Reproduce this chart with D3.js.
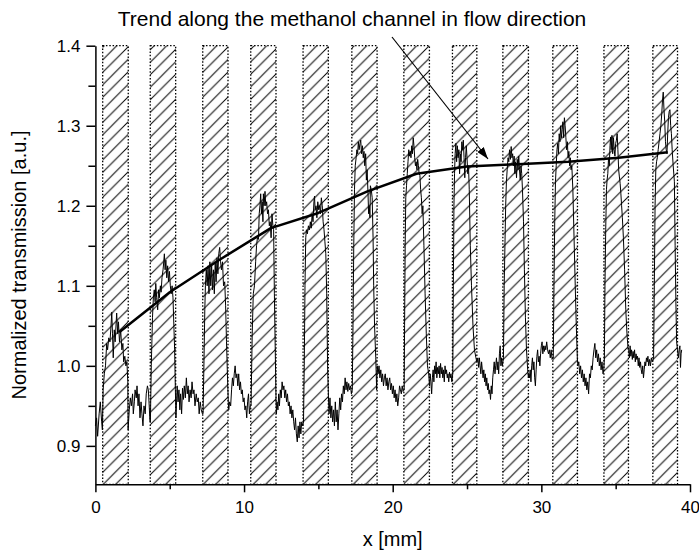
<!DOCTYPE html>
<html>
<head>
<meta charset="utf-8">
<script src="https://cdn.jsdelivr.net/npm/d3@7"></script>
<style>
  body { margin: 0; background: #fff; }
  svg { display: block; font-family: "Liberation Sans", Arial, sans-serif; }
</style>
</head>
<body>
<div id="chart"></div>
<script>
// hatched channel bands (x in mm)
var bandStart = [0.49, 3.69, 7.22, 10.45, 13.97, 17.25, 20.75, 24.02, 27.41, 30.77, 34.21, 37.50];
var bandEnd   = [2.21, 5.40, 8.92, 12.15, 15.67, 18.95, 22.47, 25.66, 29.13, 32.43, 35.86, 39.16];

// trend along the methanol channel
var trendX = [1.6, 5.0, 8.3, 11.8, 15.0, 18.3, 21.6, 25.0, 28.4, 31.8, 35.2, 38.5];
var trendY = [1.042, 1.092, 1.132, 1.172, 1.191, 1.218, 1.240, 1.249, 1.252, 1.255, 1.260, 1.267];

// measured transmission profile [x, value]
var signal = [
  [0.0,0.925],[0.08,0.935],[0.15,0.912],[0.25,0.94],[0.33,0.955],[0.42,0.93],
  [0.47,0.92],[0.52,0.97],[0.6,0.99],[0.68,1.0],[0.76,1.028],[0.82,1.02],[0.9,1.035],[0.98,1.03],[1.05,1.05],[1.1,1.067],[1.15,1.04],[1.2,1.01],[1.27,1.045],[1.33,1.03],[1.43,1.066],[1.5,1.04],[1.55,1.055],[1.62,1.03],[1.7,1.045],[1.78,1.02],[1.85,1.028],[1.9,1.005],[1.98,1.012],[2.05,1.0],[2.12,1.005],[2.18,0.98],[2.2,0.92],
  [2.23,0.93],[2.28,0.945],[2.35,0.96],[2.42,0.95],[2.5,0.965],[2.55,0.94],[2.62,0.955],[2.67,0.97],[2.75,0.96],[2.8,0.975],[2.87,0.95],[2.93,0.965],[3.0,0.935],[3.07,0.955],[3.13,0.94],[3.2,0.925],[3.27,0.95],[3.35,0.94],[3.42,0.965],[3.5,0.975],[3.56,0.97],[3.62,0.95],[3.67,0.93],
  [3.7,0.93],[3.76,1.0],[3.84,1.06],[3.9,1.085],[3.96,1.095],[4.02,1.08],[4.06,1.103],[4.12,1.085],[4.19,1.07],[4.25,1.095],[4.3,1.085],[4.37,1.1],[4.42,1.092],[4.48,1.11],[4.55,1.12],[4.6,1.13],[4.64,1.14],[4.69,1.12],[4.74,1.132],[4.8,1.11],[4.86,1.125],[4.92,1.105],[4.98,1.118],[5.04,1.1],[5.1,1.09],[5.16,1.1],[5.22,1.085],[5.28,1.05],[5.33,1.02],[5.38,0.97],[5.42,0.935],
  [5.45,0.95],[5.5,0.975],[5.56,0.955],[5.62,0.97],[5.68,0.945],[5.73,0.965],[5.8,0.94],[5.86,0.972],[5.92,0.958],[5.98,0.975],[6.05,0.96],[6.12,0.985],[6.18,0.965],[6.24,0.975],[6.3,0.955],[6.37,0.97],[6.44,0.96],[6.5,0.98],[6.57,0.965],[6.63,0.97],[6.7,0.95],[6.78,0.965],[6.85,0.955],[6.92,0.96],[6.98,0.94],[7.05,0.955],[7.12,0.945],[7.2,0.94],
  [7.24,0.94],[7.3,1.0],[7.36,1.07],[7.4,1.1],[7.46,1.12],[7.52,1.1],[7.58,1.125],[7.64,1.09],[7.7,1.13],[7.76,1.1],[7.82,1.125],[7.88,1.095],[7.94,1.12],[8.0,1.09],[8.06,1.13],[8.12,1.105],[8.18,1.135],[8.24,1.115],[8.3,1.14],[8.36,1.148],[8.42,1.13],[8.48,1.12],[8.55,1.13],[8.62,1.1],[8.7,1.105],[8.76,1.075],[8.82,1.03],[8.88,0.99],[8.94,0.955],
  [8.97,0.945],[9.03,0.955],[9.1,0.95],[9.16,0.97],[9.22,0.985],[9.28,0.975],[9.34,0.99],[9.4,1.0],[9.46,0.985],[9.52,0.99],[9.58,0.975],[9.64,0.99],[9.7,0.97],[9.76,0.98],[9.82,0.965],[9.88,0.97],[9.94,0.955],[10.0,0.96],[10.06,0.945],[10.12,0.95],[10.18,0.935],[10.24,0.955],[10.3,0.965],[10.36,0.94],[10.42,0.95],
  [10.47,0.95],[10.55,1.04],[10.62,1.09],[10.7,1.1],[10.78,1.13],[10.84,1.15],[10.9,1.16],[10.97,1.158],[11.02,1.19],[11.07,1.2],[11.12,1.215],[11.17,1.19],[11.22,1.205],[11.27,1.18],[11.3,1.215],[11.35,1.2],[11.41,1.218],[11.46,1.2],[11.52,1.205],[11.58,1.19],[11.64,1.195],[11.7,1.175],[11.76,1.18],[11.82,1.16],[11.88,1.19],[11.94,1.175],[11.99,1.17],[12.04,1.09],[12.09,1.03],[12.15,0.96],
  [12.18,0.94],[12.22,0.955],[12.28,0.945],[12.33,0.965],[12.38,0.95],[12.44,0.97],[12.5,0.96],[12.56,0.98],[12.62,0.97],[12.68,0.975],[12.74,0.96],[12.8,0.97],[12.86,0.955],[12.92,0.965],[12.98,0.95],[13.04,0.955],[13.1,0.94],[13.16,0.95],[13.22,0.935],[13.28,0.945],[13.34,0.93],[13.4,0.92],[13.46,0.935],[13.52,0.915],[13.58,0.905],[13.64,0.925],[13.7,0.91],[13.76,0.93],[13.82,0.915],[13.88,0.93],[13.95,0.925],
  [14.0,0.93],[14.05,1.0],[14.1,1.1],[14.15,1.16],[14.2,1.17],[14.26,1.165],[14.33,1.175],[14.4,1.17],[14.46,1.18],[14.52,1.172],[14.58,1.19],[14.64,1.18],[14.7,1.205],[14.74,1.212],[14.78,1.195],[14.84,1.2],[14.9,1.185],[14.96,1.205],[15.02,1.195],[15.08,1.2],[15.14,1.19],[15.2,1.21],[15.26,1.2],[15.32,1.18],[15.38,1.17],[15.44,1.155],[15.5,1.14],[15.56,1.09],[15.62,1.0],[15.68,0.96],
  [15.72,0.94],[15.78,0.96],[15.84,0.935],[15.9,0.95],[15.96,0.93],[16.02,0.945],[16.08,0.925],[16.14,0.955],[16.2,0.93],[16.26,0.945],[16.32,0.92],[16.38,0.94],[16.44,0.96],[16.5,0.945],[16.56,0.965],[16.62,0.955],[16.68,0.975],[16.74,0.965],[16.8,0.985],[16.86,0.97],[16.92,0.98],[16.98,0.968],[17.04,0.978],[17.1,0.97],[17.16,0.975],[17.22,0.965],
  [17.28,0.97],[17.33,1.05],[17.38,1.15],[17.43,1.22],[17.48,1.25],[17.54,1.26],[17.59,1.27],[17.64,1.265],[17.69,1.28],[17.74,1.27],[17.8,1.278],[17.85,1.282],[17.9,1.265],[17.96,1.275],[18.02,1.26],[18.07,1.268],[18.12,1.25],[18.18,1.265],[18.23,1.232],[18.28,1.245],[18.34,1.215],[18.38,1.19],[18.42,1.2],[18.47,1.185],[18.5,1.225],[18.56,1.22],[18.62,1.21],[18.68,1.16],[18.72,1.1],[18.78,1.05],[18.86,1.01],[18.92,0.97],
  [18.96,1.0],[19.02,0.99],[19.08,1.0],[19.14,0.985],[19.2,0.995],[19.26,0.98],[19.32,0.99],[19.38,0.975],[19.44,0.985],[19.5,0.99],[19.56,0.975],[19.62,0.985],[19.68,0.97],[19.74,0.98],[19.8,0.985],[19.86,0.97],[19.92,0.978],[19.98,0.965],[20.04,0.975],[20.1,0.96],[20.16,0.97],[20.22,0.955],[20.28,0.965],[20.34,0.95],[20.4,0.96],[20.46,0.975],[20.52,0.97],[20.58,0.965],[20.64,0.975],[20.7,0.968],
  [20.77,0.97],[20.8,1.05],[20.84,1.15],[20.88,1.21],[20.93,1.225],[20.98,1.24],[21.03,1.255],[21.08,1.27],[21.13,1.262],[21.18,1.268],[21.23,1.26],[21.28,1.275],[21.33,1.265],[21.38,1.285],[21.43,1.275],[21.48,1.26],[21.53,1.25],[21.58,1.255],[21.63,1.245],[21.68,1.258],[21.73,1.25],[21.78,1.24],[21.83,1.238],[21.88,1.22],[21.93,1.21],[21.98,1.19],[22.03,1.2],[22.1,1.15],[22.18,1.09],[22.26,1.04],[22.34,1.0],[22.42,0.99],
  [22.48,0.975],[22.52,0.99],[22.57,0.98],[22.62,0.965],[22.67,0.985],[22.72,0.995],[22.77,0.98],[22.82,1.0],[22.87,0.99],[22.92,1.005],[22.97,0.985],[23.02,0.998],[23.07,0.99],[23.12,1.0],[23.17,0.985],[23.22,1.003],[23.27,0.99],[23.32,0.998],[23.37,0.985],[23.42,0.995],[23.47,0.98],[23.52,1.0],[23.57,0.99],[23.62,0.995],[23.67,0.985],[23.72,0.99],[23.77,0.98],[23.82,0.992],[23.87,0.985],[23.92,0.99],[23.98,0.98],
  [24.04,0.99],[24.08,1.1],[24.12,1.2],[24.16,1.24],[24.2,1.265],[24.25,1.278],[24.3,1.255],[24.35,1.275],[24.4,1.26],[24.45,1.27],[24.5,1.24],[24.55,1.265],[24.6,1.255],[24.65,1.28],[24.7,1.27],[24.75,1.282],[24.8,1.26],[24.85,1.235],[24.9,1.26],[24.95,1.275],[25.0,1.26],[25.05,1.24],[25.1,1.25],[25.15,1.22],[25.22,1.15],[25.3,1.1],[25.4,1.05],[25.5,1.02],[25.6,1.01],[25.66,1.005],
  [25.68,1.005],[25.73,1.01],[25.78,0.998],[25.83,1.01],[25.88,1.0],[25.93,0.99],[25.98,1.005],[26.03,0.995],[26.08,0.985],[26.13,0.995],[26.18,0.98],[26.23,0.99],[26.28,0.975],[26.33,0.985],[26.38,0.97],[26.43,0.978],[26.48,0.965],[26.53,0.97],[26.58,0.958],[26.63,0.975],[26.68,0.965],[26.73,0.985],[26.78,0.995],[26.83,1.005],[26.88,0.99],[26.93,1.0],[26.98,1.01],[27.03,0.995],[27.08,1.005],[27.13,0.99],[27.18,1.015],[27.23,1.025],[27.28,1.0],[27.33,1.01],[27.38,1.0],
  [27.45,1.01],[27.5,1.1],[27.55,1.15],[27.6,1.2],[27.65,1.23],[27.7,1.245],[27.76,1.26],[27.81,1.255],[27.86,1.27],[27.92,1.258],[27.97,1.274],[28.02,1.26],[28.07,1.265],[28.12,1.25],[28.17,1.262],[28.22,1.24],[28.27,1.255],[28.33,1.235],[28.38,1.258],[28.43,1.245],[28.48,1.262],[28.53,1.245],[28.58,1.232],[28.63,1.25],[28.68,1.24],[28.73,1.22],[28.8,1.18],[28.86,1.12],[28.93,1.06],[29.0,1.02],[29.08,0.995],[29.13,0.985],
  [29.16,0.99],[29.2,0.985],[29.25,0.995],[29.3,0.98],[29.35,1.0],[29.4,1.01],[29.45,0.995],[29.5,1.005],[29.55,0.985],[29.6,0.975],[29.65,0.995],[29.7,1.012],[29.75,1.02],[29.8,1.005],[29.85,1.012],[29.9,1.0],[29.95,1.015],[30.0,1.025],[30.05,1.03],[30.1,1.015],[30.15,1.025],[30.2,1.018],[30.25,1.025],[30.3,1.02],[30.36,1.03],[30.42,1.02],[30.48,1.015],[30.54,1.02],[30.6,1.01],[30.66,1.02],[30.72,1.008],
  [30.8,1.01],[30.85,1.1],[30.9,1.18],[30.95,1.23],[31.0,1.25],[31.05,1.27],[31.1,1.278],[31.15,1.265],[31.2,1.29],[31.25,1.28],[31.3,1.3],[31.35,1.285],[31.4,1.295],[31.45,1.305],[31.5,1.285],[31.55,1.31],[31.6,1.3],[31.65,1.285],[31.7,1.27],[31.75,1.28],[31.8,1.26],[31.85,1.268],[31.9,1.25],[31.95,1.26],[32.0,1.245],[32.05,1.25],[32.12,1.22],[32.2,1.16],[32.28,1.1],[32.35,1.05],[32.42,1.01],
  [32.46,1.0],[32.52,1.005],[32.58,0.99],[32.64,1.0],[32.7,0.985],[32.76,0.995],[32.82,0.98],[32.88,0.99],[32.94,0.975],[33.0,0.985],[33.06,0.97],[33.12,0.98],[33.18,0.965],[33.24,0.99],[33.3,0.985],[33.36,1.0],[33.42,0.995],[33.48,1.01],[33.54,1.02],[33.6,1.028],[33.66,1.01],[33.72,1.02],[33.78,1.005],[33.84,1.015],[33.9,1.0],[33.96,1.01],[34.02,0.995],[34.08,1.005],[34.15,0.99],[34.2,0.995],
  [34.24,1.01],[34.28,1.1],[34.33,1.17],[34.38,1.22],[34.42,1.232],[34.47,1.24],[34.52,1.26],[34.57,1.25],[34.62,1.275],[34.66,1.286],[34.7,1.27],[34.75,1.288],[34.8,1.265],[34.85,1.285],[34.9,1.27],[34.95,1.262],[35.0,1.278],[35.05,1.282],[35.1,1.29],[35.15,1.27],[35.2,1.245],[35.25,1.236],[35.3,1.228],[35.35,1.215],[35.4,1.2],[35.45,1.185],[35.52,1.16],[35.6,1.12],[35.68,1.07],[35.76,1.04],[35.84,1.02],
  [35.88,1.02],[35.92,1.01],[35.97,1.025],[36.02,1.012],[36.07,1.02],[36.12,1.008],[36.17,1.018],[36.22,1.01],[36.27,1.02],[36.32,1.005],[36.37,1.015],[36.42,1.008],[36.47,1.012],[36.52,1.0],[36.57,1.01],[36.62,0.998],[36.67,1.005],[36.72,0.995],[36.77,0.99],[36.82,1.0],[36.87,0.985],[36.92,0.995],[36.97,1.005],[37.02,1.0],[37.07,1.01],[37.12,1.005],[37.17,1.012],[37.22,1.0],[37.28,1.008],[37.34,1.0],[37.4,1.01],[37.46,1.005],
  [37.55,1.01],[37.6,1.1],[37.65,1.2],[37.7,1.245],[37.75,1.255],[37.8,1.26],[37.86,1.27],[37.92,1.28],[37.98,1.29],[38.04,1.3],[38.1,1.315],[38.15,1.332],[38.2,1.342],[38.25,1.32],[38.3,1.305],[38.35,1.28],[38.4,1.27],[38.45,1.265],[38.5,1.29],[38.55,1.31],[38.6,1.318],[38.65,1.32],[38.7,1.3],[38.75,1.29],[38.8,1.27],[38.87,1.25],[38.95,1.23],[39.0,1.15],[39.05,1.08],[39.1,1.03],[39.16,1.02],[39.22,1.01],[39.27,1.02],[39.32,1.025],[39.36,0.998],[39.4,1.015],[39.44,1.02]
];

var xMajor = [0, 10, 20, 30, 40];
var xMinor = [5, 15, 25, 35];
var yMajor = [0.9, 1.0, 1.1, 1.2, 1.3, 1.4];
var yMinor = [0.95, 1.05, 1.15, 1.25, 1.35];

var annotation = "Trend along the methanol channel in flow direction";

var W = 699, H = 552;
var margin = {left: 95.4, right: 690, top: 45.7, bottom: 484.3};

var svg = d3.select("#chart").append("svg")
  .attr("width", W)
  .attr("height", H);

var x = d3.scaleLinear().domain([0, 40]).range([margin.left, margin.right]);
var y = d3.scaleLinear().domain([0.852, 1.4]).range([margin.bottom, margin.top]);

// hatch pattern
var hs = 12.5;
var defs = svg.append("defs");
defs.append("pattern")
  .attr("id", "hatch")
  .attr("patternUnits", "userSpaceOnUse")
  .attr("width", hs).attr("height", hs)
  .append("path")
  .attr("d", "M0," + hs + "L" + hs + ",0M-3,3L3,-3M" + (hs - 3) + "," + (hs + 3) + "L" + (hs + 3) + "," + (hs - 3))
  .attr("stroke", "#000")
  .attr("stroke-width", 1);

svg.append("g").selectAll("rect")
  .data(bandStart)
  .enter()
  .append("rect")
  .attr("x", function (d) { return x(d); })
  .attr("y", margin.top)
  .attr("width", function (d, i) { return x(bandEnd[i]) - x(d); })
  .attr("height", margin.bottom - margin.top)
  .attr("fill", "url(#hatch)")
  .attr("stroke", "#000")
  .attr("stroke-width", 1.3)
  .attr("stroke-dasharray", "1.5,1.8");

// signal
var line = d3.line()
  .x(function (d) { return x(d[0]); })
  .y(function (d) { return y(d[1]); });

svg.append("path")
  .datum(signal)
  .attr("d", line)
  .attr("fill", "none")
  .attr("stroke", "#000")
  .attr("stroke-width", 1);

// trend line
svg.append("path")
  .datum(trendX.map(function (d, i) { return [d, trendY[i]]; }))
  .attr("d", line)
  .attr("fill", "none")
  .attr("stroke", "#000")
  .attr("stroke-width", 2.5)
  .attr("stroke-linejoin", "round");

// axes
svg.append("g")
  .attr("transform", "translate(" + margin.left + ",0)")
  .call(d3.axisLeft(y).tickValues(yMajor).tickFormat(d3.format(".1f")).tickSize(9).tickSizeOuter(0).tickPadding(6));
svg.append("g")
  .attr("transform", "translate(" + margin.left + ",0)")
  .call(d3.axisLeft(y).tickValues(yMinor).tickFormat("").tickSize(7).tickSizeOuter(0))
  .select(".domain").remove();

svg.append("g")
  .attr("transform", "translate(0," + margin.bottom + ")")
  .call(d3.axisBottom(x).tickValues(xMajor).tickSize(8).tickSizeOuter(0).tickPadding(9));
svg.append("g")
  .attr("transform", "translate(0," + margin.bottom + ")")
  .call(d3.axisBottom(x).tickValues(xMinor).tickFormat("").tickSize(5).tickSizeOuter(0))
  .select(".domain").remove();

svg.selectAll(".domain, .tick line")
  .attr("stroke", "#000")
  .attr("stroke-width", 1.5);
svg.selectAll(".tick text")
  .attr("fill", "#000")
  .style("font-size", "17px")
  .style("font-family", "'Liberation Sans', Arial, sans-serif");

// axis titles
svg.append("text")
  .attr("x", (margin.left + margin.right) / 2)
  .attr("y", 546)
  .attr("text-anchor", "middle")
  .style("font-size", "20px")
  .text("x [mm]");

svg.append("text")
  .attr("transform", "translate(26," + ((margin.top + margin.bottom) / 2) + ") rotate(-90)")
  .attr("text-anchor", "middle")
  .style("font-size", "20px")
  .text("Normalized transmission [a.u.]");

// annotation with arrow
svg.append("text")
  .attr("x", 352)
  .attr("y", 26)
  .attr("text-anchor", "middle")
  .style("font-size", "21px")
  .text(annotation);

defs.append("marker")
  .attr("id", "arrow")
  .attr("viewBox", "0 0 12 8")
  .attr("refX", 12).attr("refY", 4)
  .attr("markerWidth", 12).attr("markerHeight", 8)
  .attr("markerUnits", "userSpaceOnUse")
  .attr("orient", "auto")
  .append("path")
  .attr("d", "M0,0L12,4L0,8Z")
  .attr("fill", "#000");

svg.append("line")
  .attr("x1", 392).attr("y1", 37)
  .attr("x2", 488).attr("y2", 159)
  .attr("stroke", "#000")
  .attr("stroke-width", 1.2)
  .attr("marker-end", "url(#arrow)");
</script>
</body>
</html>
